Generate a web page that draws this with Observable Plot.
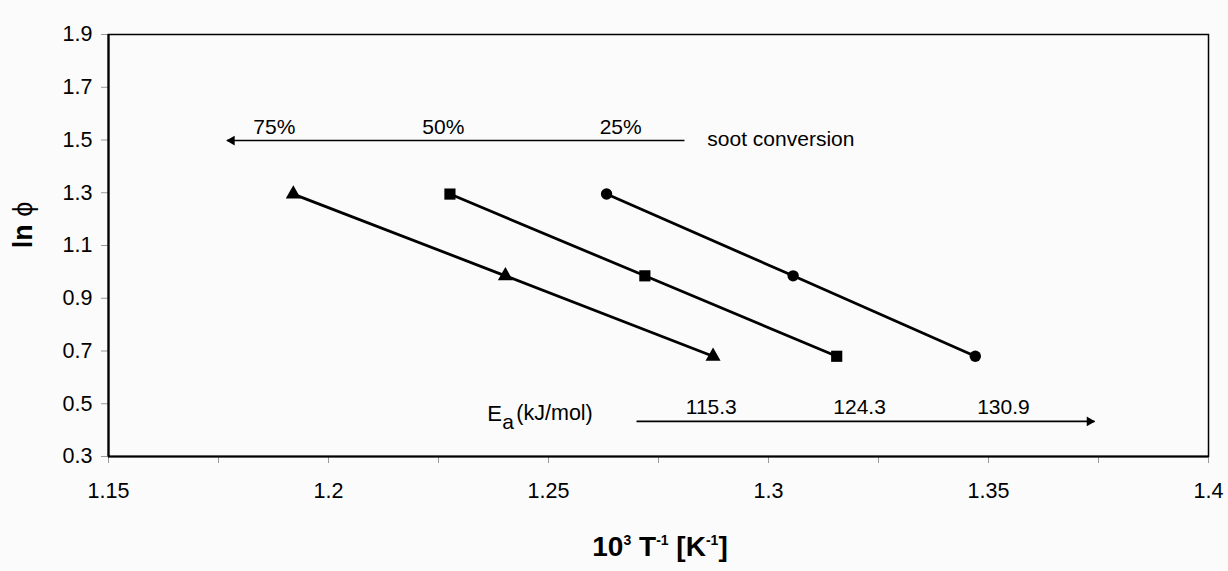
<!DOCTYPE html>
<html>
<head>
<meta charset="utf-8">
<script src="https://cdn.jsdelivr.net/npm/d3@7"></script>
<script src="https://cdn.jsdelivr.net/npm/@observablehq/plot@0.6"></script>
<style>
html, body { margin: 0; padding: 0; background: #fbfbfb; }
#chart svg { display: block; }
</style>
</head>
<body>
<div id="chart"></div>
<script>
// ---- data ----
const conversions = ["75%", "50%", "25%"];
const markerSymbols = ["triangle", "square", "circle"];
const lnPhi = [1.295, 0.985, 0.68];
const invT75 = [1.192, 1.2402, 1.2874];
const invT50 = [1.2276, 1.2719, 1.3155];
const invT25 = [1.2632, 1.3056, 1.3470];
const activationEnergies = ["115.3", "124.3", "130.9"];
const yTickValues = [0.3, 0.5, 0.7, 0.9, 1.1, 1.3, 1.5, 1.7, 1.9];
const xLabelTicks = [1.15, 1.2, 1.25, 1.3, 1.35, 1.4];
const xMinorTicks = [1.15, 1.175, 1.2, 1.225, 1.25, 1.275, 1.3, 1.325, 1.35, 1.375, 1.4];

// annotation anchors (data units)
const conversionLabelX = [1.1877, 1.2261, 1.2664];
const conversionLabelY = 1.547;
const conversionArrow = {x1: 1.2809, x2: 1.1769, y: 1.498};
const sootLabel = {text: "soot conversion", x: 1.2861, y: 1.503};
const energyLabelX = [1.2870, 1.3207, 1.3534];
const energyLabelY = 0.486;
const energyArrow = {x1: 1.2700, x2: 1.3741, y: 0.433};
const eaLabel = {x: 1.2361, y: 0.463};

const seriesX = [invT75, invT50, invT25];
const rows = [];
conversions.forEach((c, s) => {
  lnPhi.forEach((v, i) => rows.push({series: c, symbol: markerSymbols[s], x: seriesX[s][i], y: v}));
});
const convLabels = conversions.map((c, i) => ({text: c, x: conversionLabelX[i], y: conversionLabelY}));
const energyLabels = activationEnergies.map((e, i) => ({text: e, x: energyLabelX[i], y: energyLabelY}));

const font = "'Liberation Sans', Arial, sans-serif";

const chart = Plot.plot({
  width: 1228,
  height: 571,
  marginLeft: 108,
  marginRight: 20,
  marginTop: 34,
  marginBottom: 115,
  x: {domain: [1.15, 1.4]},
  y: {domain: [0.3, 1.9]},
  style: {fontFamily: font, fontSize: "21px", background: "#fbfbfb", color: "black"},
  marks: [
    Plot.axisY({ticks: yTickValues, tickFormat: d => d.toFixed(1), tickSize: 7, tickPadding: 9, stroke: "#999", label: null, fontSize: 21.5}),
    Plot.axisX({ticks: xMinorTicks, tickSize: 7, tickFormat: () => "", stroke: "#999", label: null}),
    Plot.axisX({ticks: xLabelTicks, tickSize: 0, tickPadding: 26, tickFormat: d => String(d), label: null, fontSize: 21.5}),
    Plot.frame({stroke: "black", strokeWidth: 1.5}),
    Plot.ruleX([1.15], {stroke: "black", strokeWidth: 2.2}),
    Plot.ruleY([0.3], {stroke: "black", strokeWidth: 2.2}),
    Plot.line(rows, {x: "x", y: "y", z: "series", stroke: "black", strokeWidth: 2.8}),
    Plot.dot(rows.filter(d => d.symbol === "triangle"), {x: "x", y: "y", symbol: "triangle", fill: "black", r: 5.6}),
    Plot.dot(rows.filter(d => d.symbol === "square"), {x: "x", y: "y", symbol: "square", fill: "black", r: 6.3}),
    Plot.dot(rows.filter(d => d.symbol === "circle"), {x: "x", y: "y", symbol: "circle", fill: "black", r: 5.7}),
    // soot conversion arrow
    Plot.link([conversionArrow], {x1: "x1", x2: "x2", y1: "y", y2: "y", stroke: "black", strokeWidth: 1.6}),
    Plot.dot([conversionArrow], {x: "x2", y: "y", symbol: "triangle", fill: "black", r: 3.6, rotate: -90, dx: 5}),
    Plot.text(convLabels, {x: "x", y: "y", text: "text", fontSize: 21, fill: "black"}),
    Plot.text([sootLabel], {x: "x", y: "y", text: "text", textAnchor: "start", fontSize: 21, fill: "black"}),
    // activation energy arrow
    Plot.link([energyArrow], {x1: "x1", x2: "x2", y1: "y", y2: "y", stroke: "black", strokeWidth: 1.6}),
    Plot.dot([energyArrow], {x: "x2", y: "y", symbol: "triangle", fill: "black", r: 3.6, rotate: 90, dx: -5}),
    Plot.text(energyLabels, {x: "x", y: "y", text: "text", fontSize: 21, fill: "black"}),
    Plot.text([eaLabel], {x: "x", y: "y", text: () => "E", textAnchor: "start", fontSize: 22, fill: "black"}),
    Plot.text([eaLabel], {x: "x", y: "y", text: () => "a", textAnchor: "start", fontSize: 21, dx: 15, dy: 9, fill: "black"}),
    Plot.text([eaLabel], {x: "x", y: "y", text: () => "(kJ/mol)", textAnchor: "start", fontSize: 21.5, dx: 29, fill: "black"})
  ]
});

const svg = d3.select(chart);
// x axis title with superscripts
const xt = svg.append("text")
  .attr("x", 660).attr("y", 556)
  .attr("text-anchor", "middle")
  .attr("font-family", font).attr("font-weight", "bold").attr("font-size", 28).attr("fill", "black");
xt.append("tspan").text("10");
xt.append("tspan").attr("dy", -11).attr("font-size", 14).text("3");
xt.append("tspan").attr("dy", 11).text(" T");
xt.append("tspan").attr("dy", -11).attr("font-size", 14).text("-1");
xt.append("tspan").attr("dy", 11).text(" [K");
xt.append("tspan").attr("dy", -11).attr("font-size", 14).text("-1");
xt.append("tspan").attr("dy", 11).text("]");

// y axis title
const yt = svg.append("text")
  .attr("transform", "translate(32,225) rotate(-90)")
  .attr("text-anchor", "middle")
  .attr("font-family", font).attr("font-size", 27).attr("fill", "black");
yt.append("tspan").attr("font-weight", "bold").text("ln ");
yt.append("tspan").text("ϕ");

document.getElementById("chart").appendChild(chart);
</script>
</body>
</html>
